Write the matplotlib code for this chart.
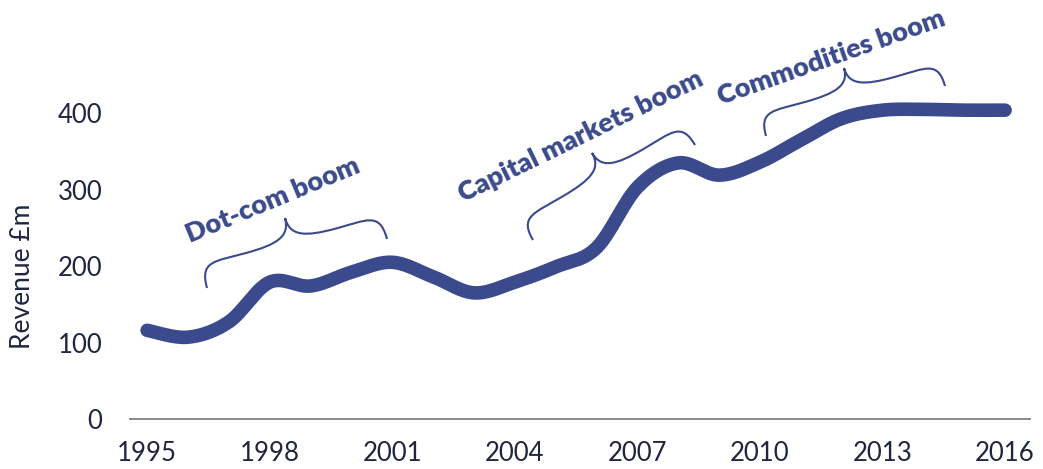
import numpy as np
import matplotlib
matplotlib.use("Agg")
import matplotlib.pyplot as plt
from matplotlib.path import Path
from matplotlib.patches import PathPatch
from matplotlib.transforms import Affine2D

# Revenue by year (£m)
years = [1995, 1996, 1997, 1998, 1999, 2000, 2001, 2002, 2003, 2004, 2005,
         2006, 2007, 2008, 2009, 2010, 2011, 2012, 2013, 2014, 2015, 2016]
revenue = [116, 107, 127, 179, 174, 192, 205, 186, 165, 179, 199,
           224, 303, 335, 319, 336, 365, 393, 404, 405, 404, 404]
x_ticks = [1995, 1998, 2001, 2004, 2007, 2010, 2013, 2016]
y_ticks = [0, 100, 200, 300, 400]
booms = ["Dot-com boom", "Capital markets boom", "Commodities boom"]

LINE = "#3a4a8c"
TEXT = "#1f2640"
W, H = 1043, 469

plt.rcParams['font.family'] = ['Lato', 'DejaVu Sans']

fig = plt.figure(figsize=(W / 100, H / 100), dpi=100)
ax = fig.add_axes([130 / W, 50 / H, 900 / W, 344 / H])


def smooth(x, y, n=30):
    """Catmull-Rom curve through the points (like a spreadsheet smoothed line)."""
    x = np.asarray(x, float)
    y = np.asarray(y, float)
    px = np.concatenate([[x[0]], x, [x[-1]]])
    py = np.concatenate([[y[0]], y, [y[-1]]])
    xs, ys = [], []
    t = np.linspace(0, 1, n, endpoint=False)
    for i in range(1, len(px) - 2):
        p0x, p1x, p2x, p3x = px[i - 1:i + 3]
        p0y, p1y, p2y, p3y = py[i - 1:i + 3]
        c1x, c1y = p1x + (p2x - p0x) / 6, p1y + (p2y - p0y) / 6
        c2x, c2y = p2x - (p3x - p1x) / 6, p2y - (p3y - p1y) / 6
        b = [(1 - t) ** 3, 3 * (1 - t) ** 2 * t, 3 * (1 - t) * t ** 2, t ** 3]
        xs.append(b[0] * p1x + b[1] * c1x + b[2] * c2x + b[3] * p2x)
        ys.append(b[0] * p1y + b[1] * c1y + b[2] * c2y + b[3] * p2y)
    xs.append([x[-1]])
    ys.append([y[-1]])
    return np.concatenate(xs), np.concatenate(ys)


sx, sy = smooth(years, revenue)
ax.plot(sx, sy, color=LINE, lw=9.8, solid_capstyle='round', clip_on=False,
        zorder=3)

ax.set_xlim(1994.58, 2016.61)
ax.set_ylim(0, 450)
ax.set_xticks(x_ticks)
ax.set_yticks(y_ticks)
ax.tick_params(length=0, labelsize=18.5, labelcolor=TEXT)
ax.tick_params(axis='x', pad=16)
ax.tick_params(axis='y', pad=20)
for s in ['top', 'right', 'left']:
    ax.spines[s].set_visible(False)
ax.spines['bottom'].set_color('#8a8a8a')
ax.spines['bottom'].set_linewidth(1.4)
ax.set_ylabel("Revenue £m", fontsize=19, color=TEXT)
ax.yaxis.set_label_coords(-0.106, 0.416)

# pixel space (origin top-left) -> figure
pix = Affine2D().scale(1 / W, -1 / H).translate(0, 1) + fig.transFigure


def brace(a, b, tip):
    a, b, tip = map(np.asarray, (a, b, tip))
    d = b - a
    L = np.hypot(*d)
    u = d / L
    v = np.array([u[1], -u[0]])
    if np.dot(tip - a, v) < 0:
        v = -v
    ut = np.dot(tip - a, u)
    h = np.dot(tip - a, v)
    r = L - ut
    loc = [(0, 0),
           (0, 0.6 * h), (0.15 * ut, 0.5 * h), (0.5 * ut, 0.5 * h),
           (0.85 * ut, 0.5 * h), (ut, 0.6 * h), (ut, h),
           (ut, 0.6 * h), (ut + 0.15 * r, 0.5 * h), (ut + 0.5 * r, 0.5 * h),
           (ut + 0.85 * r, 0.5 * h), (L, 0.6 * h), (L, 0)]
    pts = [a + p * u + q * v for p, q in loc]
    codes = [Path.MOVETO] + [Path.CURVE4] * 12
    fig.patches.append(PathPatch(Path(pts, codes), fill=False, ec=LINE,
                                 lw=1.5, transform=pix))


brace((207, 288), (387, 239), (285, 218))
brace((533, 240), (695, 145), (592, 153))
brace((766, 136), (945, 86), (844, 68))

for label, (px_, py_), rot in zip(booms,
                                  [(273, 200), (581, 136), (831, 57)],
                                  [22.5, 26, 19.5]):
    fig.text(px_, py_, label, transform=pix, rotation=rot,
             rotation_mode='anchor', ha='center', va='center',
             fontsize=19.5, fontweight='heavy', color=LINE)

fig.savefig("out.png", dpi=100)
